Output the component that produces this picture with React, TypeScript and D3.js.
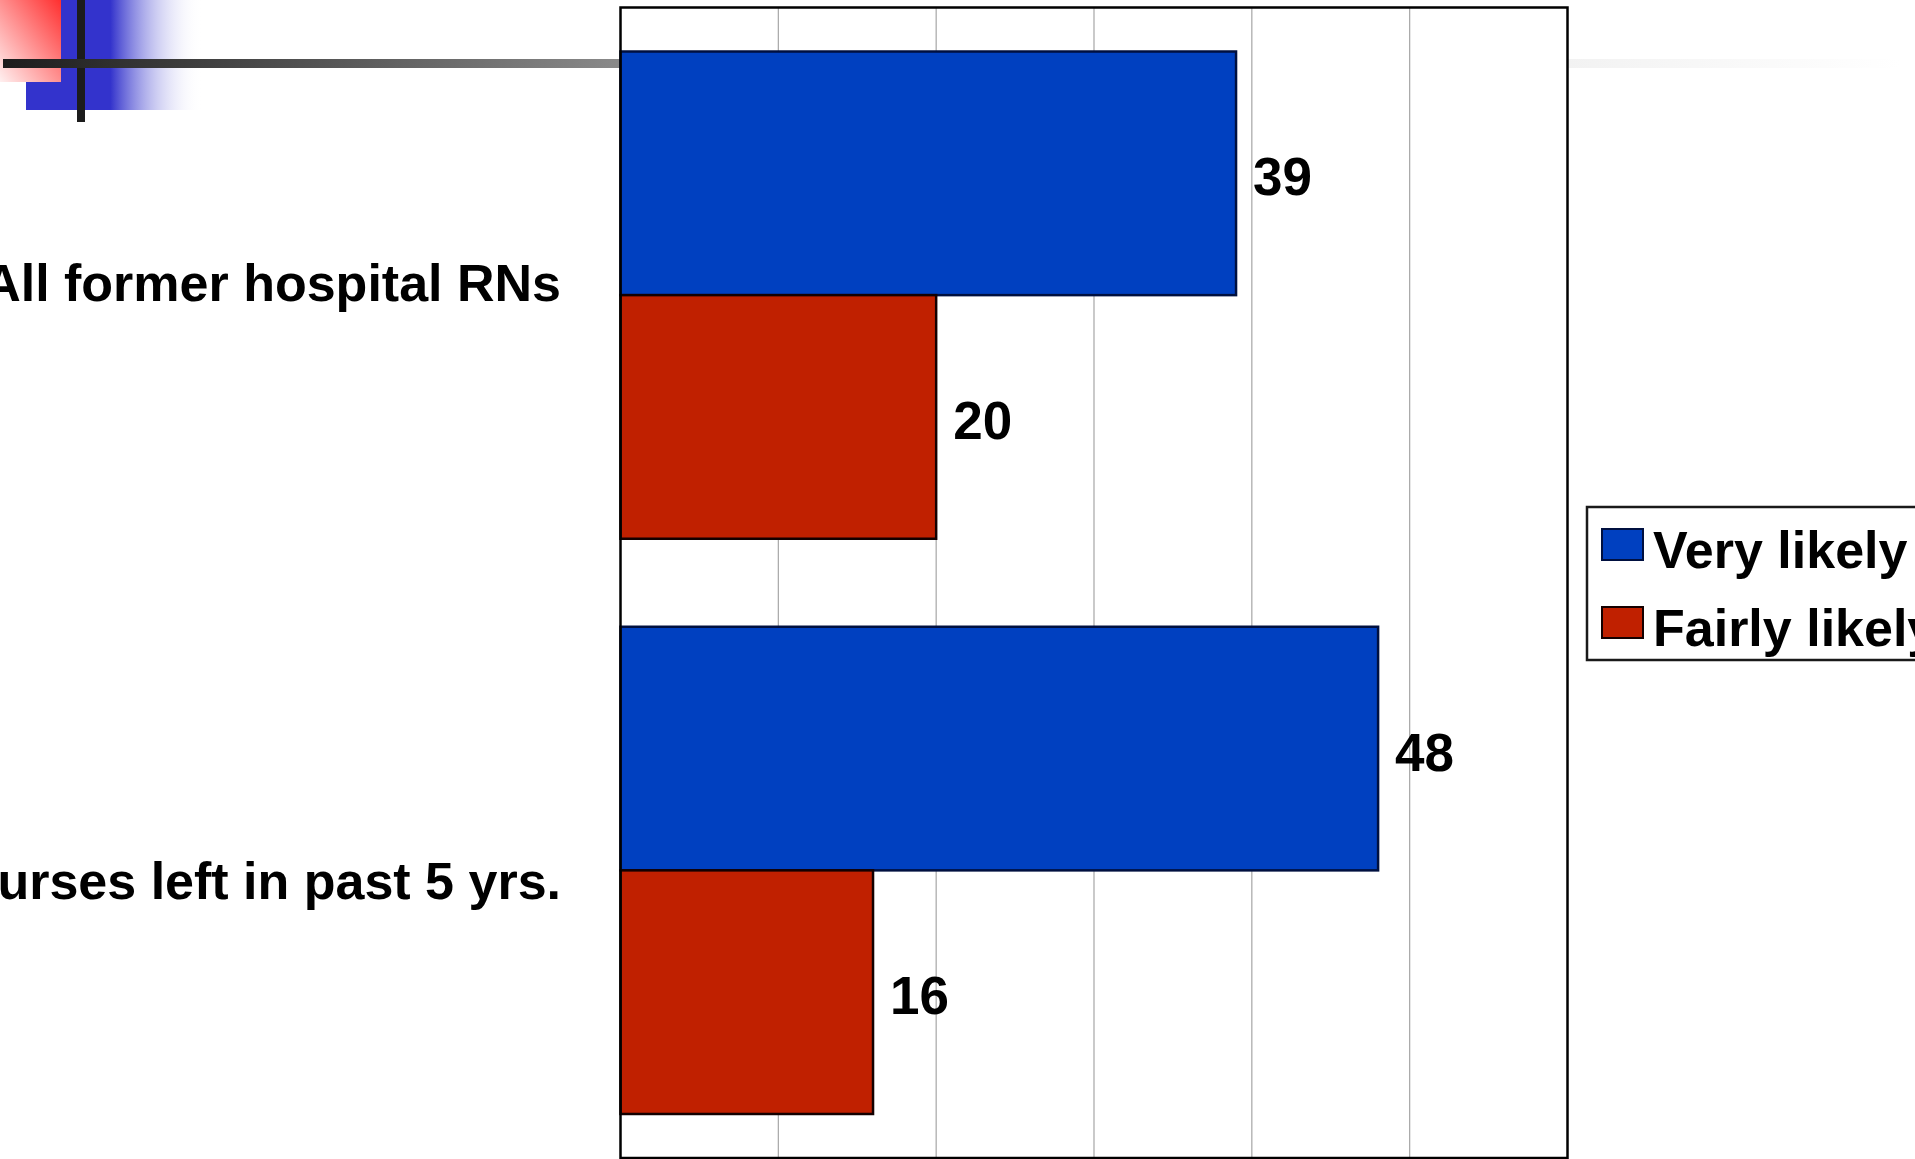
import * as d3 from "d3";
import React from "react";

// chart data
const categories = ["All former hospital RNs", "Nurses left in past 5 yrs."];
const seriesNames = ["Very likely", "Fairly likely"];
const veryLikely = [39, 48];
const fairlyLikely = [20, 16];
const seriesValues = [veryLikely, fairlyLikely];
const seriesColors = ["#0040c0", "#c02000"];
const seriesStrokes = ["#001040", "#140000"];
const xTicks = [0, 10, 20, 30, 40, 50, 60];

const W = 1915;
const H = 1159;
const plot = { left: 620.5, right: 1567.5, top: 7.5, bottom: 1158 };
const font = "'Liberation Sans', Arial, sans-serif";

const Decoration = () => (
	<g className="slide-deco">
		<defs>
			<linearGradient id="blueFade" x1="0" x2="1" y1="0" y2="0">
				<stop offset="0" stopColor="#3333cc" />
				<stop offset="0.48" stopColor="#3333cc" />
				<stop offset="1" stopColor="#ffffff" stopOpacity="0" />
			</linearGradient>
			<linearGradient id="redFade" x1="1" y1="0" x2="0" y2="1">
				<stop offset="0" stopColor="#ff2f2f" />
				<stop offset="1" stopColor="#fff0f0" />
			</linearGradient>
			<linearGradient id="lineFade" x1="0" x2="1" y1="0" y2="0">
				<stop offset="0" stopColor="#1c1c1c" />
				<stop offset="0.326" stopColor="#8a8a8a" />
				<stop offset="0.825" stopColor="#f2f2f2" />
				<stop offset="1" stopColor="#ffffff" />
			</linearGradient>
		</defs>
		<rect x={26} y={0} width={176} height={110} fill="url(#blueFade)" />
		<rect x={0} y={0} width={61} height={82} fill="url(#redFade)" />
		<rect x={77} y={0} width={8} height={122} fill="#1c1c1c" />
		<rect x={3} y={59} width={1897} height={9} fill="url(#lineFade)" />
	</g>
);

const App = () => {
	const x = d3.scaleLinear().domain([0, 60]).range([plot.left, plot.right]);
	const y = d3
		.scaleBand()
		.domain(categories)
		.range([plot.top, plot.bottom])
		.paddingInner(0.153)
		.paddingOuter(0.0765);
	const ySeries = d3
		.scaleBand()
		.domain(seriesNames)
		.range([0, y.bandwidth()]);
	// category labels sit a little apart from the band centres
	const yLabel = d3.scalePoint().domain(categories).range([282, 880]);

	return (
		<svg
			width={W}
			height={H}
			viewBox={`0 0 ${W} ${H}`}
			style={{ position: "absolute", left: 0, top: 0, background: "#fff" }}
		>
			<rect width={W} height={H} fill="#fff" />
			<Decoration />

			<rect
				x={plot.left}
				y={plot.top}
				width={plot.right - plot.left}
				height={plot.bottom - plot.top}
				fill="#fff"
			/>
			{xTicks.slice(1, -1).map((t) => (
				<line
					key={t}
					x1={x(t)}
					x2={x(t)}
					y1={plot.top}
					y2={plot.bottom}
					stroke="#a6a6a6"
					strokeWidth={1.2}
				/>
			))}

			{categories.map((cat, ci) => (
				<g key={cat} transform={`translate(0,${y(cat)})`}>
					{seriesNames.map((s, si) => {
						const v = seriesValues[si][ci];
						const by = ySeries(s) ?? 0;
						const bh = ySeries.bandwidth();
						return (
							<g key={s}>
								<rect
									x={x(0)}
									y={by}
									width={x(v) - x(0)}
									height={bh}
									fill={seriesColors[si]}
									stroke={seriesStrokes[si]}
									strokeWidth={2.5}
								/>
								<text
									x={x(v) + 17}
									y={by + bh / 2 + 22}
									fontFamily={font}
									fontWeight="bold"
									fontSize={53}
									fill="#000"
								>
									{v}
								</text>
							</g>
						);
					})}
				</g>
			))}

			<rect
				x={plot.left}
				y={plot.top}
				width={plot.right - plot.left}
				height={plot.bottom - plot.top}
				fill="none"
				stroke="#000"
				strokeWidth={2.5}
			/>

			{categories.map((cat) => (
				<text
					key={cat}
					x={561}
					y={(yLabel(cat) ?? 0) + 19}
					textAnchor="end"
					fontFamily={font}
					fontWeight="bold"
					fontSize={52}
					fill="#000"
				>
					{cat}
				</text>
			))}

			<g className="legend" transform="translate(1587,507)">
				<rect
					x={0}
					y={0}
					width={420}
					height={153}
					fill="#fff"
					stroke="#1a1a1a"
					strokeWidth={2.5}
				/>
				{seriesNames.map((s, i) => (
					<g key={s} transform={`translate(0,${i * 78})`}>
						<rect
							x={15}
							y={22}
							width={41}
							height={31}
							fill={seriesColors[i]}
							stroke={seriesStrokes[i]}
							strokeWidth={2}
						/>
						<text
							x={66}
							y={61}
							fontFamily={font}
							fontWeight="bold"
							fontSize={52}
							fill="#000"
						>
							{s}
						</text>
					</g>
				))}
			</g>
		</svg>
	);
};

export default App;
